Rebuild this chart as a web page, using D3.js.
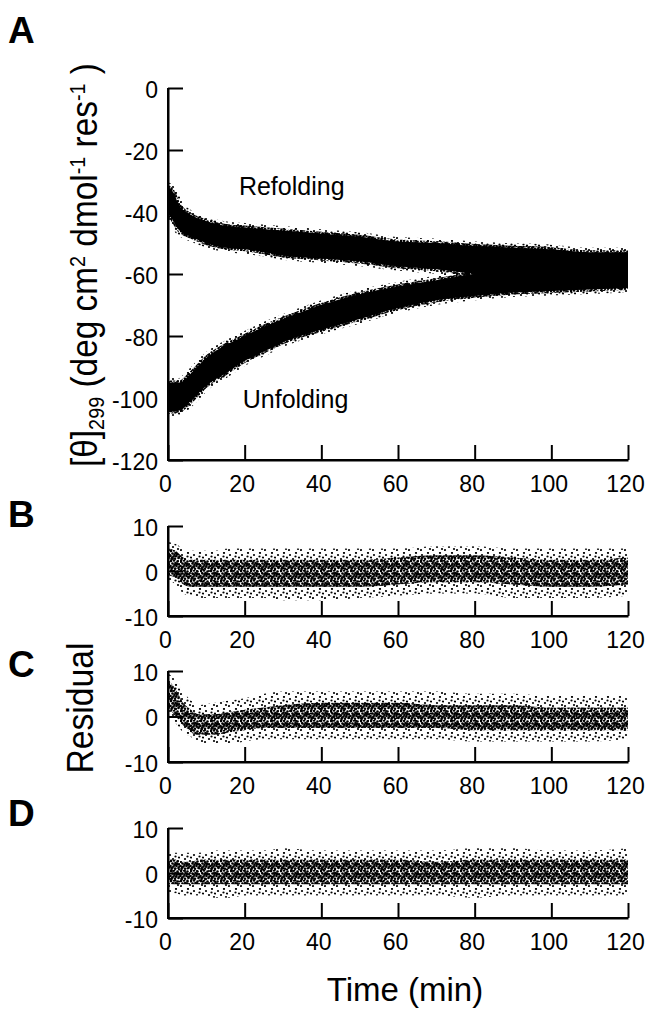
<!DOCTYPE html>
<html><head><meta charset="utf-8">
<script src="https://cdn.jsdelivr.net/npm/d3@7"></script>
<style>
body{margin:0;background:#fff;}
text{font-family:"Liberation Sans",Arial,Helvetica,sans-serif;fill:#000;}
</style>
</head><body>
<svg id="chart" width="650" height="1011"></svg>
<script>
// ---------------- data ----------------
const xTicks = [0, 20, 40, 60, 80, 100, 120];
const yTicksA = [0, -20, -40, -60, -80, -100, -120];
const yTicksRes = [10, 0, -10];

// Panel A: dense-core envelopes of the two CD kinetic traces (deg cm2 dmol-1 res-1)
const refoldTime = [0, 1, 3, 6, 10, 15, 20, 30, 40, 50, 60, 70, 80, 90, 100, 110, 120];
const refoldHi   = [-32, -33, -38, -41, -43, -44.5, -45, -46, -47, -48, -49.5, -50, -51, -51.5, -52, -53, -53];
const refoldLo   = [-40, -42, -46, -48, -50, -51.5, -52, -54, -55, -56, -57.5, -58.5, -60, -61, -62, -63, -63];

const unfoldTime = [0, 3, 6, 10, 15, 20, 25, 30, 40, 50, 60, 70, 80, 90, 100, 110, 120];
const unfoldHi   = [-95, -95, -92, -87, -83, -80, -77, -74.5, -70, -66.5, -64, -62, -60, -59, -58, -57, -56];
const unfoldLo   = [-104.5, -104, -101, -96, -92, -88, -85, -82, -78, -74.5, -71, -68.5, -67, -66, -65.5, -65, -64.5];

// Residual panels B, C, D: dense core and sparse tails of the residual cloud
const resTime = [0, 2, 4, 6, 8, 12, 16, 20, 25, 30, 40, 50, 60, 70, 80, 90, 100, 110, 120];

const resBCoreHi = [5, 4.5, 3, 2.5, 2.5, 2.5, 2.5, 2.5, 2.5, 2.5, 2.5, 2.5, 3, 3.5, 3.5, 3, 2.5, 2.5, 3];
const resBCoreLo = [-1, -1.5, -3, -3.5, -3.5, -3.5, -3.5, -3.5, -3.5, -3.5, -3.5, -3.5, -3, -2.5, -2.5, -3, -3.5, -3.5, -3];
const resBTailHi = [6.5, 6, 5, 4.5, 4.5, 4.5, 5, 5, 5, 5, 5, 5, 5, 5.5, 5.5, 5, 5, 5, 5];
const resBTailLo = [-2, -3, -5, -5.5, -6, -6, -6, -6, -6, -6.5, -6.5, -6, -5.5, -5, -5, -6, -6, -6, -5.5];

const resCCoreHi = [8, 6, 3, 1.5, 0.5, 0.5, 1, 1.5, 2, 2.5, 3, 3, 3, 2.5, 2.5, 2.5, 2, 2, 2];
const resCCoreLo = [2, 0, -2, -3.5, -4, -4, -3.5, -3, -2.5, -2.5, -2.5, -2.5, -2.5, -2.5, -3, -3, -3, -3, -3];
const resCTailHi = [9.5, 8, 5.5, 3.5, 2.5, 3, 3.5, 4, 5, 5.5, 5.5, 5.5, 5.5, 5.5, 5, 5, 4.5, 4.5, 4.5];
const resCTailLo = [1, -1.5, -3.5, -4.5, -5.5, -6, -6, -5.5, -5, -5, -5, -5, -5, -5, -5.5, -5.5, -5.5, -5.5, -5];

const resDCoreHi = [3, 3, 2.5, 2.5, 3, 3, 3, 3, 3, 3, 3, 3, 3, 2.5, 3, 3, 3, 3, 3];
const resDCoreLo = [-2.5, -2.5, -2.5, -2.5, -2.5, -2.5, -2.5, -2.5, -2.5, -2.5, -2.5, -2.5, -2.5, -2.5, -2.5, -2.5, -2.5, -2.5, -2.5];
const resDTailHi = [4.5, 4.5, 4.5, 4.5, 4.5, 5, 5, 5, 5, 5.5, 5, 5, 5, 5, 5.5, 5.5, 5, 5, 5.5];
const resDTailLo = [-4.5, -4.5, -5, -5, -5, -5.5, -5.5, -5, -5, -5, -5, -5, -5, -5, -5.5, -5, -5, -5, -5];

const panelLetters = ["A", "B", "C", "D"];
const annotations = [
  {text: "Refolding", t: 18.5, v: -34.5},
  {text: "Unfolding", t: 19.5, v: -103.2}
];

// ---------------- layout ----------------
const svg = d3.select("#chart");
const X0 = 168, X1 = 628;
const x = d3.scaleLinear().domain([0, 120]).range([X0, X1]);
const yA = d3.scaleLinear().domain([-120, 0]).range([460, 88]);
const yB = d3.scaleLinear().domain([-10, 10]).range([616, 526]);
const yC = d3.scaleLinear().domain([-10, 10]).range([762, 671]);
const yD = d3.scaleLinear().domain([-10, 10]).range([918, 828]);

// ---------------- textures ----------------
const defs = svg.append("defs");
function dotPattern(id, size, pts, r) {
  const p = defs.append("pattern").attr("id", id).attr("patternUnits", "userSpaceOnUse")
    .attr("width", size).attr("height", size);
  pts.forEach(q => p.append("circle").attr("cx", q[0]).attr("cy", q[1]).attr("r", r).attr("fill", "#000"));
}
dotPattern("dense", 10, [[1,1],[4,0.5],[7.5,1.5],[2.5,3.5],[5.5,3],[9,4.2],[0.5,6],[3.5,6.5],[6.5,6],[8.5,8],[1.5,9],[5,8.7],[7,3.9],[2.2,7.8],[9.5,6.5],[4.5,4.8]], 1.3);
dotPattern("sparse", 12, [[2,3],[8,1],[5,7],[10,9],[1,10],[7.5,4.5],[11,5.5]], 1.1);

function clipFor(id, y) {
  defs.append("clipPath").attr("id", id).append("rect")
    .attr("x", X0).attr("y", y.range()[1]).attr("width", X1 - X0).attr("height", y.range()[0] - y.range()[1]);
}
clipFor("clipA", yA); clipFor("clipB", yB); clipFor("clipC", yC); clipFor("clipD", yD);

function band(time, lo, hi) { return time.map((t, i) => ({t, lo: lo[i], hi: hi[i]})); }
function areaGen(y) {
  return d3.area().curve(d3.curveMonotoneX).x(d => x(d.t)).y0(d => y(d.lo)).y1(d => y(d.hi));
}

// ---------------- panel A clouds ----------------
const gA = svg.append("g").attr("clip-path", "url(#clipA)");
[[refoldTime, refoldLo, refoldHi], [unfoldTime, unfoldLo, unfoldHi]].forEach(s => {
  const data = band(s[0], s[1], s[2]);
  gA.append("path").attr("d", areaGen(yA)(data))
    .attr("fill", "none").attr("stroke", "url(#sparse)").attr("stroke-width", 9);
  gA.append("path").attr("d", areaGen(yA)(data))
    .attr("fill", "#000").attr("stroke", "url(#dense)").attr("stroke-width", 4);
});

// ---------------- residual clouds ----------------
function residual(clip, y, cHi, cLo, tHi, tLo) {
  const g = svg.append("g").attr("clip-path", `url(#${clip})`);
  g.append("path").attr("d", areaGen(y)(band(resTime, tLo, tHi))).attr("fill", "url(#sparse)");
  g.append("path").attr("d", areaGen(y)(band(resTime, cLo, cHi))).attr("fill", "url(#dense)");
}
residual("clipB", yB, resBCoreHi, resBCoreLo, resBTailHi, resBTailLo);
residual("clipC", yC, resCCoreHi, resCCoreLo, resCTailHi, resCTailLo);
residual("clipD", yD, resDCoreHi, resDCoreLo, resDTailHi, resDTailLo);

// ---------------- axes ----------------
function drawAxes(y, yTicks) {
  const gx = svg.append("g").attr("transform", `translate(0,${y.range()[0]})`)
    .call(d3.axisBottom(x).tickValues(xTicks).tickSize(-15).tickSizeOuter(0).tickPadding(16).tickFormat(d => String(d)));
  const gy = svg.append("g").attr("transform", `translate(${X0},0)`)
    .call(d3.axisLeft(y).tickValues(yTicks).tickSize(-15).tickSizeOuter(0).tickPadding(10).tickFormat(d => String(d)));
  [gx, gy].forEach(g => {
    g.select(".domain").attr("stroke", "#000").attr("stroke-width", 2);
    g.selectAll(".tick line").attr("stroke", "#000").attr("stroke-width", 2);
    g.selectAll(".tick text").style("font-family", '"Liberation Sans",Arial,sans-serif').style("font-size", "23px").attr("fill", "#000");
  });
  gx.selectAll(".tick text").attr("dx", -3);
  gy.selectAll(".tick text").attr("dy", "0.40em");
  svg.append("path").attr("d", `M${X0},${y.range()[1]}V${y.range()[0]}H${X1}`)
    .attr("fill", "none").attr("stroke", "#000").attr("stroke-width", 2).attr("stroke-linejoin", "miter");
}
drawAxes(yA, yTicksA);
drawAxes(yB, yTicksRes);
drawAxes(yC, yTicksRes);
drawAxes(yD, yTicksRes);

// ---------------- annotations ----------------
annotations.forEach(a => {
  svg.append("text").attr("x", x(a.t)).attr("y", yA(a.v)).style("font-size", "25px").text(a.text);
});

// panel letters
const letterY = [43, 527, 677, 826];
panelLetters.forEach((L, i) => {
  svg.append("text").attr("x", 8).attr("y", letterY[i]).style("font-size", "37px").style("font-weight", "bold").text(L);
});

// y label A
const yl = svg.append("text").attr("transform", "translate(97,265) rotate(-90)")
  .attr("text-anchor", "middle").style("font-size", "37px")
  .attr("textLength", 404).attr("lengthAdjust", "spacingAndGlyphs");
yl.append("tspan").text("[θ]");
yl.append("tspan").attr("baseline-shift", "-30%").style("font-size", "22px").text("299");
yl.append("tspan").text(" (deg cm");
yl.append("tspan").attr("baseline-shift", "super").style("font-size", "22px").text("2");
yl.append("tspan").text(" dmol");
yl.append("tspan").attr("baseline-shift", "super").style("font-size", "22px").text("-1");
yl.append("tspan").text(" res");
yl.append("tspan").attr("baseline-shift", "super").style("font-size", "22px").text("-1");
yl.append("tspan").text(" )");

// Residual label
svg.append("text").attr("transform", "translate(93,708) rotate(-90)")
  .attr("text-anchor", "middle").style("font-size", "36px")
  .attr("textLength", 131).attr("lengthAdjust", "spacingAndGlyphs").text("Residual");

// x label
svg.append("text").attr("x", 405).attr("y", 1001).attr("text-anchor", "middle")
  .style("font-size", "33px").text("Time (min)");
</script>
</body></html>
